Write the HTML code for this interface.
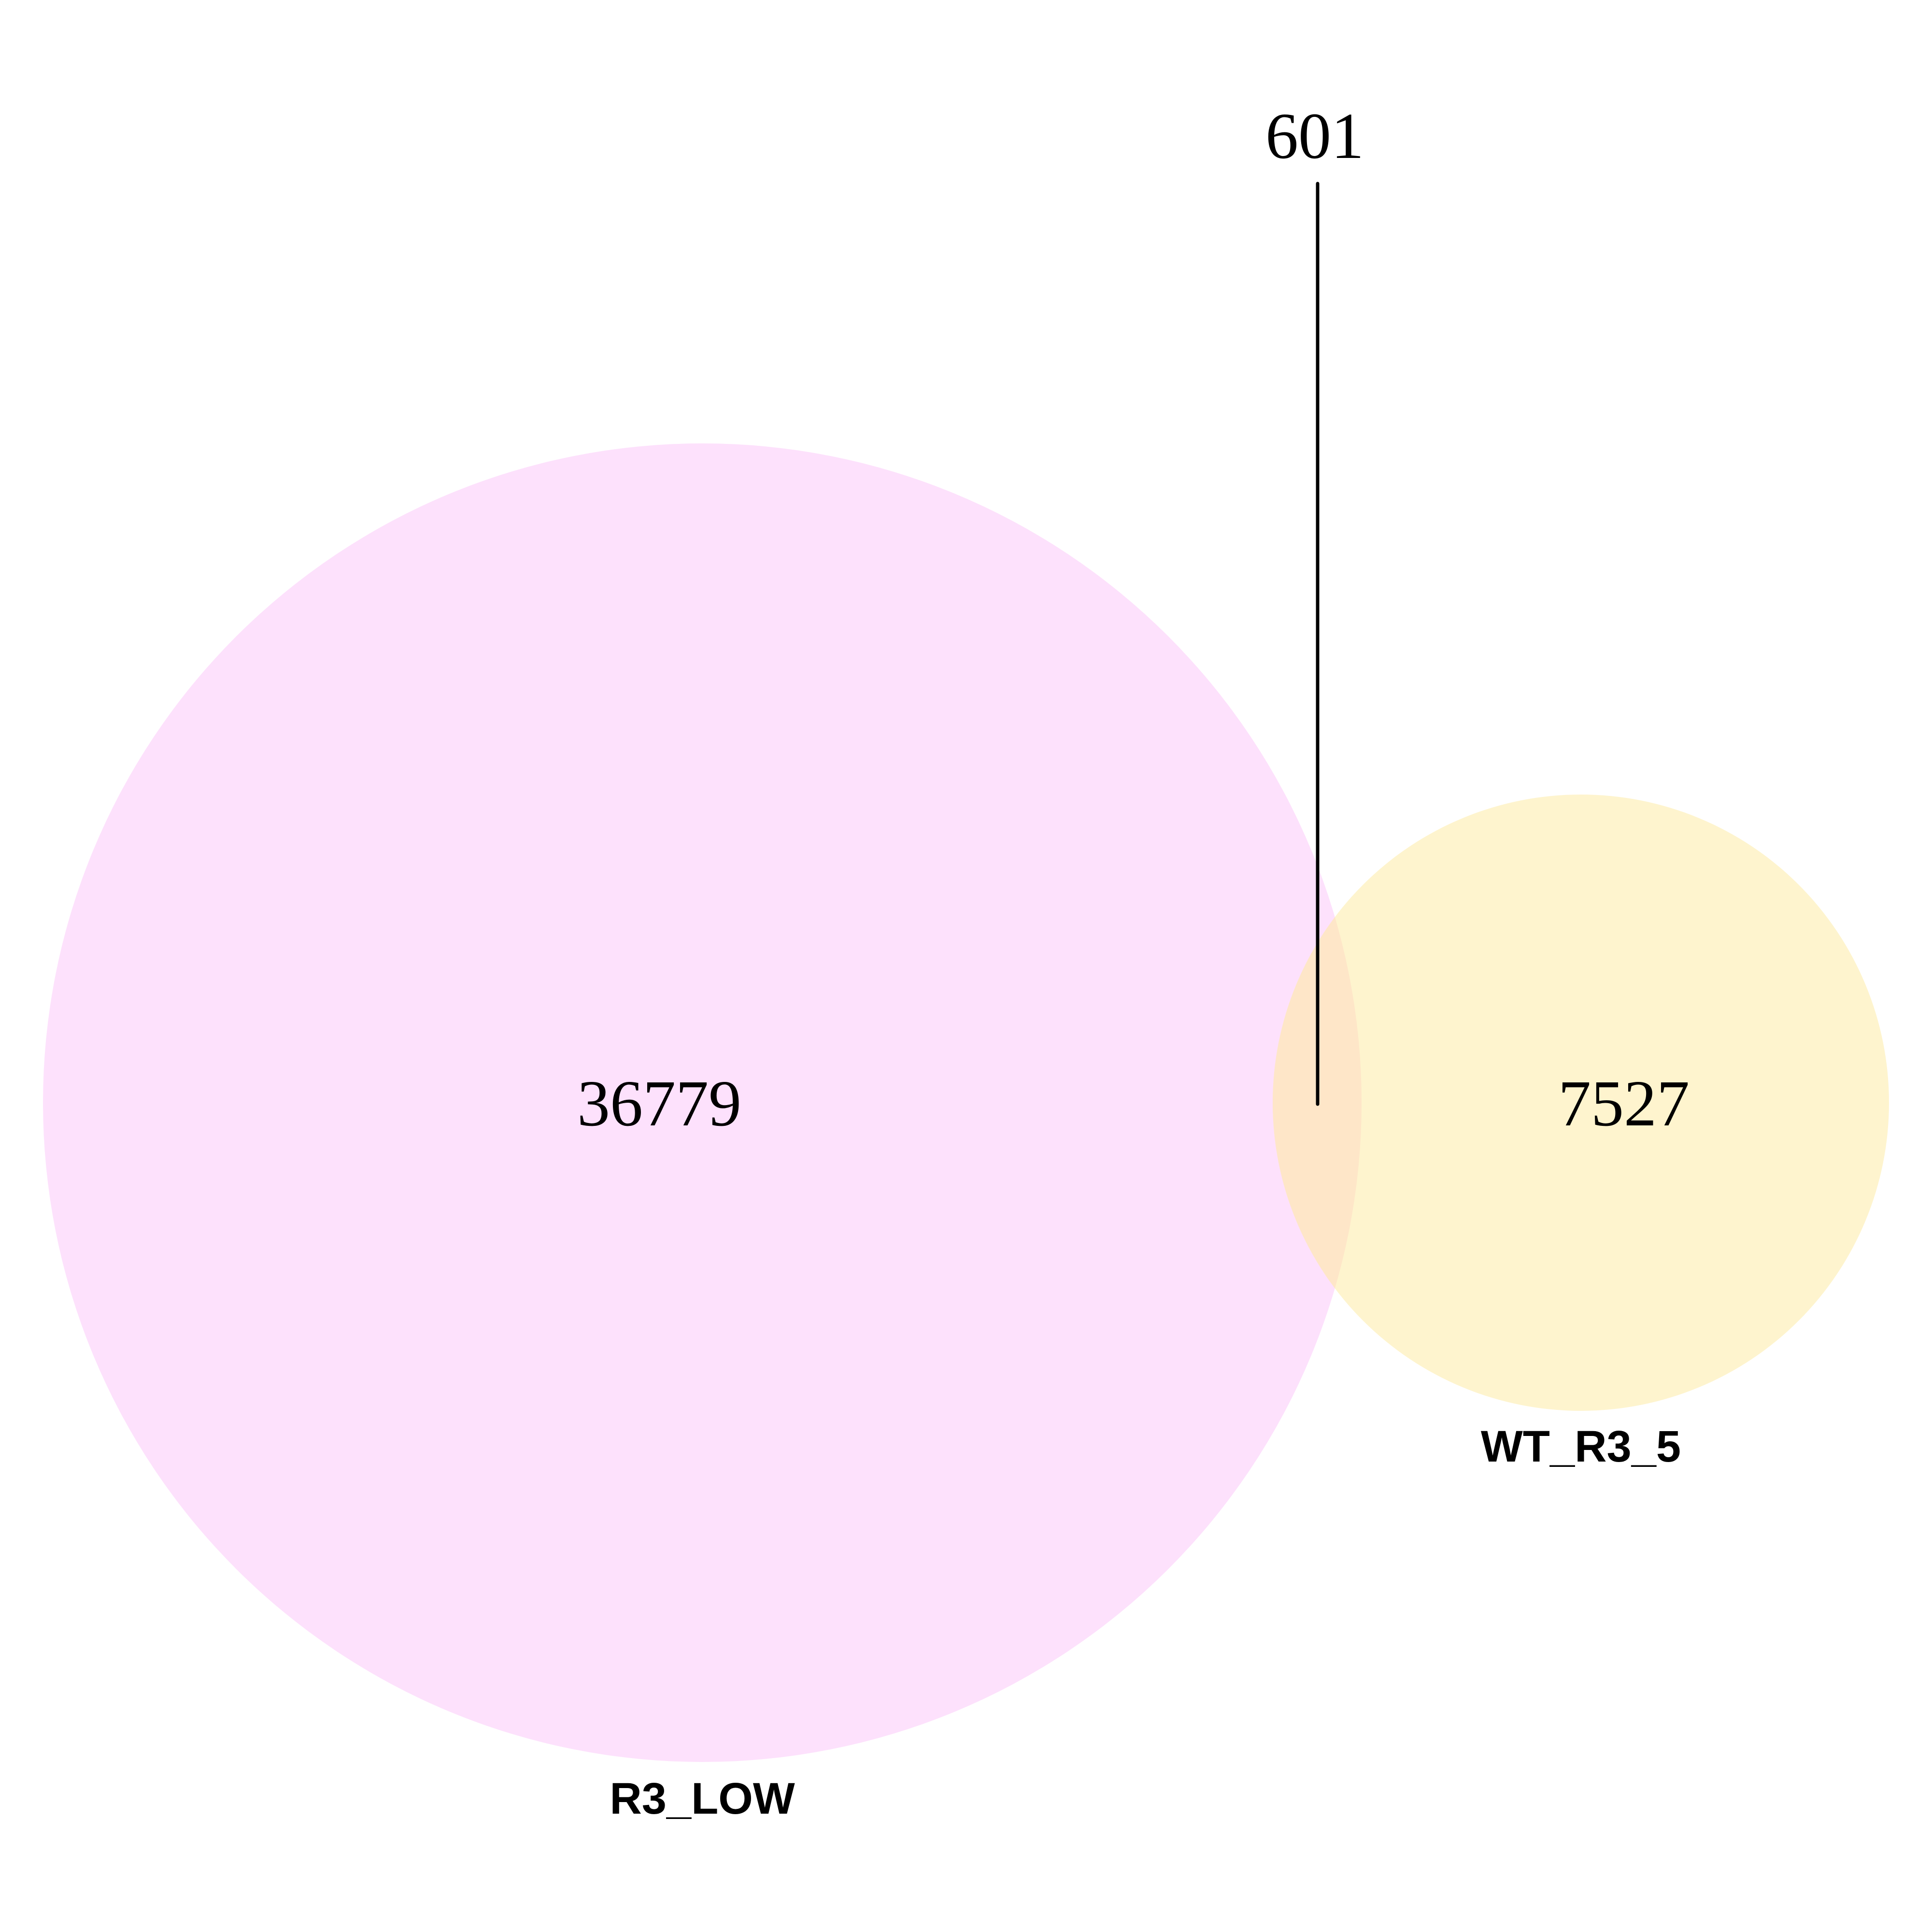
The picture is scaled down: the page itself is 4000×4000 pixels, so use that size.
<!DOCTYPE html>
<html><head><meta charset="utf-8"><style>
html,body{margin:0;padding:0;background:#fff;width:4000px;height:4000px;overflow:hidden}
</style></head><body>
<svg id="chart" width="4000" height="4000" viewBox="0 0 4000 4000" xmlns="http://www.w3.org/2000/svg"></svg>
<script>
const setNames = ["R3_LOW", "WT_R3_5"];
const setCounts = [36779, 7527];
const overlapCount = [601];
const setColors = ["#fde1fc", "#fef2c5"];

const NS = "http://www.w3.org/2000/svg";
const svg = document.getElementById("chart");
// layout
const cy = 2283;
const circles = [{cx:1454, r:1365}, {cx:3273, r:638}];
function mk(tag, attrs){const e=document.createElementNS(NS,tag);for(const k in attrs)e.setAttribute(k,attrs[k]);svg.appendChild(e);return e;}

setNames.forEach((n,i)=>{
  const c = mk("circle",{cx:circles[i].cx,cy:cy,r:circles[i].r,fill:setColors[i],"fill-opacity":i==1?0.85:1});
  
  
});
// overlap region tint
const clip = mk("clipPath",{id:"cp"});
const cc = document.createElementNS(NS,"circle");cc.setAttribute("cx",circles[0].cx);cc.setAttribute("cy",cy);cc.setAttribute("r",circles[0].r);clip.appendChild(cc);
const ov = mk("circle",{cx:circles[1].cx,cy:cy,r:circles[1].r,fill:"#fee6c8","clip-path":"url(#cp)"});



const countPos = [{x:1365,y:2330},{x:3362,y:2330}];
setCounts.forEach((v,i)=>{
  const t = mk("text",{x:countPos[i].x,y:countPos[i].y,"text-anchor":"middle","font-family":"Liberation Serif, serif","font-size":136,fill:"#000"});
  t.textContent = v;
  
  
});
const ln = mk("line",{x1:2728,y1:380,x2:2728,y2:2286,stroke:"#000","stroke-width":7,"stroke-linecap":"round"});


const ot = mk("text",{x:2722,y:327,"text-anchor":"middle","font-family":"Liberation Serif, serif","font-size":136,fill:"#000"});
ot.textContent = overlapCount[0];



const labelPos = [{x:1454,y:3755},{x:3273,y:3026}];
setNames.forEach((n,i)=>{
  const t = mk("text",{x:labelPos[i].x,y:labelPos[i].y,"text-anchor":"middle","font-family":"Liberation Sans, sans-serif","font-weight":"bold","font-size":92,fill:"#000"});
  t.textContent = n;
  
  
});
</script>
</body></html>
